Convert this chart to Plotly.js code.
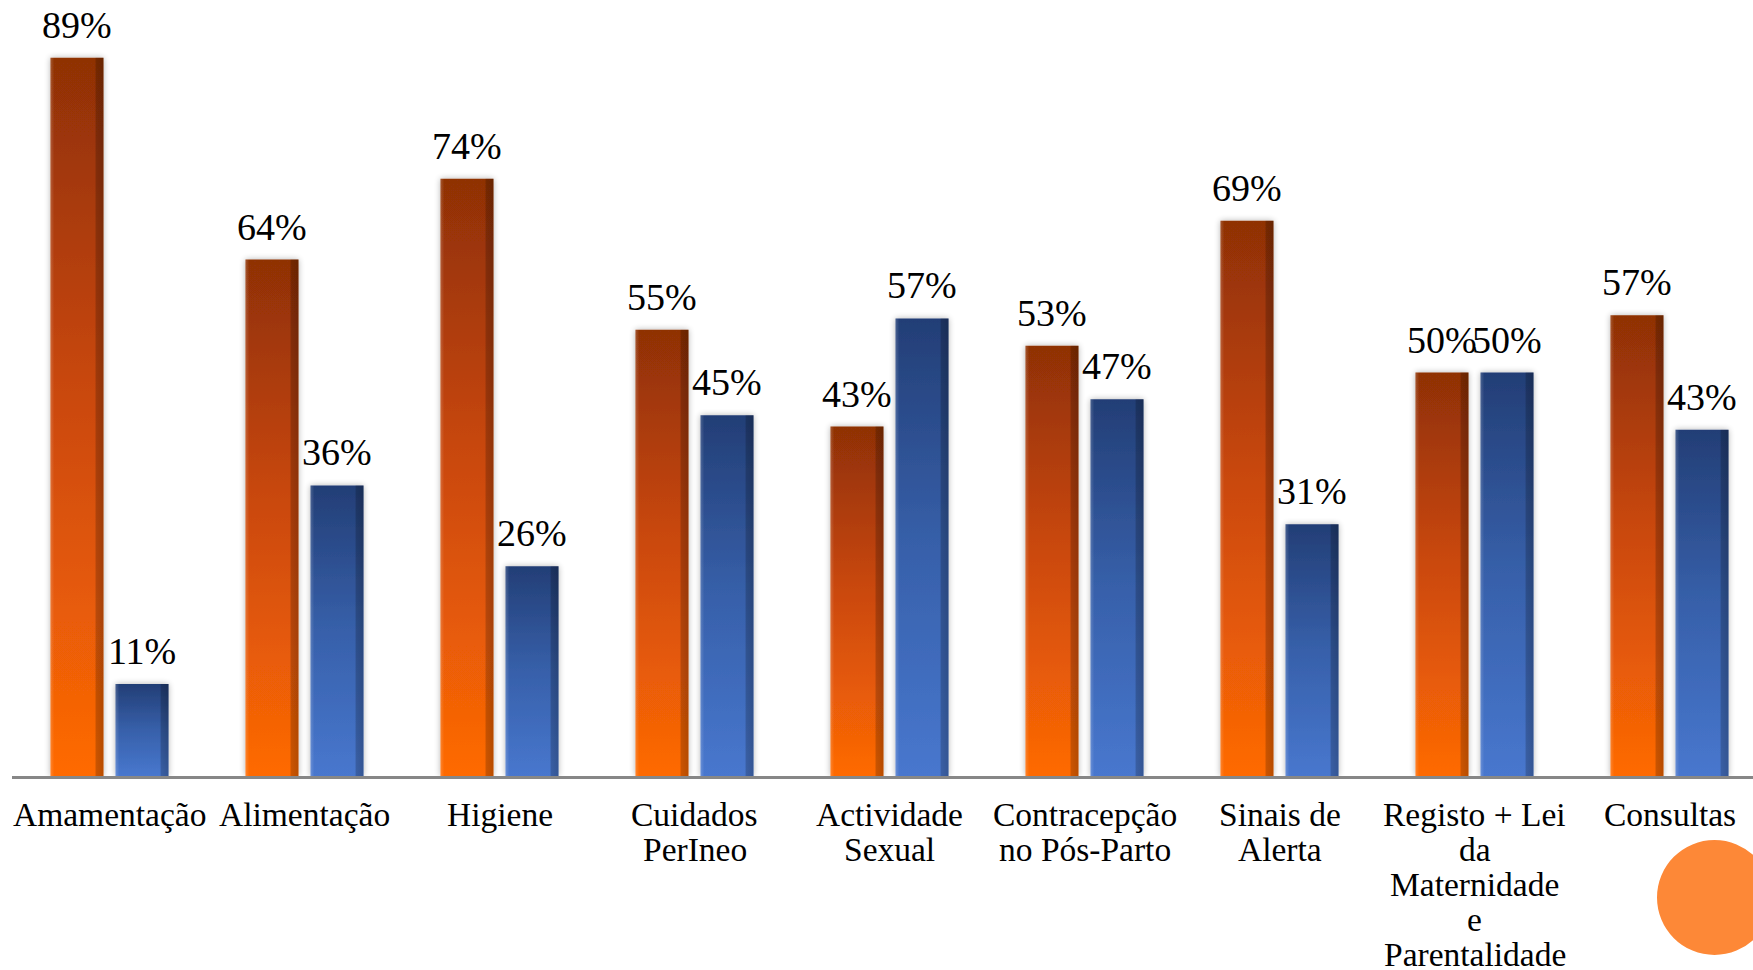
<!DOCTYPE html>
<html><head><meta charset="utf-8">
<script src="https://cdn.plot.ly/plotly-3.0.1.min.js"></script>
<style>html,body{margin:0;padding:0;background:#fff;overflow:hidden}#chart{width:1753px;height:970px}</style>
</head><body><div id="chart"></div>
<script>
// ---- data ----
const categories = ["Amamentação","Alimentação","Higiene","Cuidados PerIneo","Actividade Sexual","Contracepção no Pós-Parto","Sinais de Alerta","Registo + Lei da Maternidade e Parentalidade","Consultas"];
const tickLabels = ["Amamentação","Alimentação","Higiene","Cuidados<br>PerIneo","Actividade<br>Sexual","Contracepção<br>no Pós-Parto","Sinais de<br>Alerta","Registo + Lei<br>da<br>Maternidade<br>e<br>Parentalidade","Consultas"];
const seriesNames = ["Série 1","Série 2"];
const seriesA = [89, 64, 74, 55.3, 43.3, 53.3, 68.8, 50, 57.1];
const seriesB = [11.4, 36, 26, 44.7, 56.7, 46.7, 31.2, 50, 42.9];

// ---- styling ----
const FONT = "'Liberation Serif', 'Times New Roman', serif";
const W = 1753, H = 970, ML = 12, MB = 194;
const plotW = W - ML, plotH = H - MB;
const pxPerCat = 195;

const data = [
  {type:'bar', name:seriesNames[0], x:categories, y:seriesA, marker:{color:'#D2500A', line:{width:0}}, hoverinfo:'none'},
  {type:'bar', name:seriesNames[1], x:categories, y:seriesB, marker:{color:'#3A64B4', line:{width:0}}, hoverinfo:'none'}
];

const annotations = [];
[seriesA, seriesB].forEach((ser, k) => {
  ser.forEach((v, i) => {
    annotations.push({
      x: categories[i], y: v, xref:'x', yref:'y',
      text: Math.round(v) + '%', showarrow:false,
      xanchor:'center', yanchor:'bottom',
      xshift: k === 0 ? -32.5 : 32.5, yshift: 10,
      font:{family:FONT, size:38, color:'#000'}
    });
  });
});
tickLabels.forEach((lab, i) => {
  lab.split('<br>').forEach((line, j) => {
    annotations.push({
      x: categories[i], y: 0, xref:'x', yref:'paper',
      text: line, showarrow:false, xanchor:'center', yanchor:'top',
      yshift: -18 - j*35,
      font:{family:FONT, size:33.5, color:'#000'}
    });
  });
});

const layout = {
  width: W, height: H,
  margin:{l:ML, r:0, t:0, b:MB, pad:0},
  paper_bgcolor:'#fff', plot_bgcolor:'#fff',
  showlegend:false,
  barmode:'group', bargap:0.333, bargroupgap:0.185,
  xaxis:{type:'category', range:[-0.5, -0.5 + plotW/pxPerCat], showticklabels:false, ticks:'',
         showgrid:false, zeroline:false, showline:true, linecolor:'#878787', linewidth:2.5, fixedrange:true},
  yaxis:{range:[0, plotH/8.07], visible:false, showgrid:false, zeroline:false, fixedrange:true},
  annotations: annotations,
  shapes:[{type:'circle', xref:'paper', yref:'paper',
           x0:(1657-ML)/plotW, x1:(1772-ML)/plotW,
           y0:(plotH-955)/plotH, y1:(plotH-840)/plotH,
           fillcolor:'#FD8837', line:{width:0}}]
};

Plotly.newPlot('chart', data, layout, {staticPlot:true, displayModeBar:false}).then(gd => {
  const NS = 'http://www.w3.org/2000/svg';
  const svg = gd.querySelector('svg.main-svg');
  const defs = document.createElementNS(NS, 'defs');
  function grad(id, stops, horiz) {
    const g = document.createElementNS(NS, 'linearGradient');
    g.setAttribute('id', id);
    g.setAttribute('x1', '0'); g.setAttribute('y1', '0');
    g.setAttribute('x2', horiz ? '1' : '0'); g.setAttribute('y2', horiz ? '0' : '1');
    stops.forEach(s => {
      const st = document.createElementNS(NS, 'stop');
      st.setAttribute('offset', s[0]);
      st.setAttribute('stop-color', s[1]);
      st.setAttribute('stop-opacity', s[2] === undefined ? 1 : s[2]);
      g.appendChild(st);
    });
    defs.appendChild(g);
  }
  grad('g0', [[0,'#8F3006'],[0.45,'#C8470A'],[1,'#FF6A05']]);
  grad('g1', [[0,'#233E76'],[0.5,'#3760AA'],[1,'#4877CE']]);
  grad('edge', [[0,'#ffffff',0.18],[0.07,'#ffffff',0],[0.84,'#000000',0],[0.86,'#000000',0.2],[1,'#000000',0.28]], true);
  grad('topb', [[0,'#ffffff',0.0],[1,'#000000',0.0]]);
  const f = document.createElementNS(NS, 'filter');
  f.setAttribute('id', 'shadow');
  f.setAttribute('x', '-30%'); f.setAttribute('y', '-10%');
  f.setAttribute('width', '160%'); f.setAttribute('height', '120%');
  f.innerHTML = '<feGaussianBlur in="SourceAlpha" stdDeviation="3"/><feOffset dx="0" dy="0" result="b"/>' +
    '<feComponentTransfer><feFuncA type="linear" slope="0.3"/></feComponentTransfer>' +
    '<feMerge><feMergeNode/><feMergeNode in="SourceGraphic"/></feMerge>';
  defs.appendChild(f);
  svg.insertBefore(defs, svg.firstChild);
  gd.querySelectorAll('.barlayer .trace').forEach((tr, k) => {
    tr.querySelectorAll('.point path').forEach(p => {
      p.style.fill = 'url(#g' + k + ')';
      p.setAttribute('filter', 'url(#shadow)');
      const c = p.cloneNode(true);
      c.style.fill = 'url(#edge)';
      c.style.stroke = 'none';
      c.removeAttribute('filter');
      p.parentNode.appendChild(c);
    });
  });
});
</script>
</body></html>
